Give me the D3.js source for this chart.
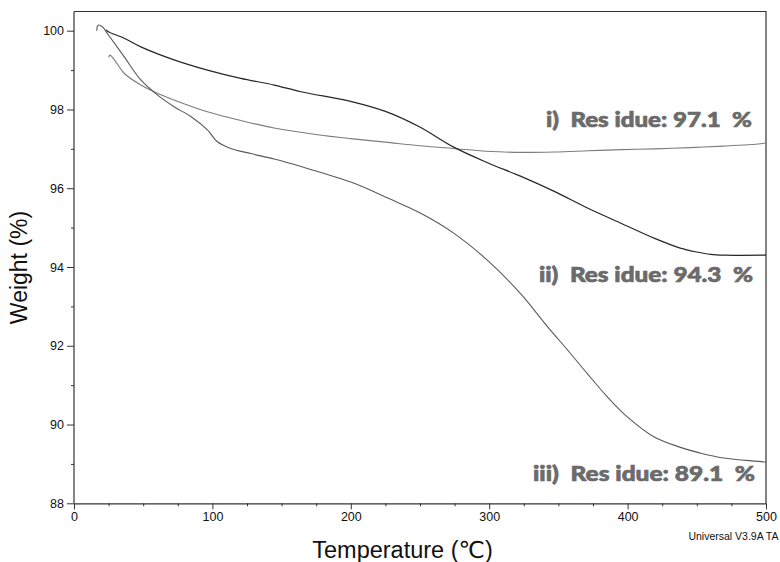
<!DOCTYPE html>
<html>
<head>
<meta charset="utf-8">
<script src="https://cdn.jsdelivr.net/npm/d3@7"></script>
<style>
  html, body { margin: 0; padding: 0; background: #fff; }
  svg { display: block; }
</style>
</head>
<body>
<svg id="chart" width="780" height="562"></svg>
<script>
// ---- data ----
const tempI   = [25.0, 26.0, 30.2, 36.2, 48.3, 60.2, 72.3, 96.4, 120.5, 144.6, 176, 200, 225, 249.5, 274, 298, 323, 347, 371.5, 396, 420, 445, 469, 496, 500];
const weightI = [99.32, 99.38, 99.21, 98.92, 98.62, 98.41, 98.24, 97.94, 97.72, 97.53, 97.36, 97.26, 97.17, 97.08, 97.01, 96.94, 96.91, 96.92, 96.95, 96.98, 97.0, 97.03, 97.07, 97.13, 97.15];

const tempII   = [23.5, 24.1, 36.2, 48.3, 72.3, 96.4, 120.5, 144.6, 164, 200.5, 225, 249.5, 274, 298, 323, 347, 371, 396, 420, 438, 450, 460, 470, 500];
const weightII = [100.03, 99.99, 99.81, 99.59, 99.26, 99.0, 98.79, 98.62, 98.45, 98.20, 97.95, 97.56, 97.05, 96.66, 96.30, 95.92, 95.50, 95.10, 94.72, 94.48, 94.38, 94.32, 94.30, 94.30];

const tempIII   = [16.4, 17.4, 20.5, 24.1, 36.2, 48.3, 60.2, 72.3, 84.4, 96.4, 103.6, 113.3, 127.8, 144.6, 164, 200.5, 228, 250.2, 274.3, 298.4, 322.5, 341.8, 358.6, 370.7, 385.2, 399.6, 418.9, 438.2, 452, 469.3, 500];
const weightIII = [100.0, 100.14, 100.10, 99.93, 99.34, 98.75, 98.37, 98.07, 97.82, 97.48, 97.18, 97.01, 96.88, 96.74, 96.55, 96.15, 95.73, 95.37, 94.86, 94.18, 93.33, 92.50, 91.81, 91.30, 90.71, 90.20, 89.69, 89.42, 89.28, 89.15, 89.05];

const xTicks = [0, 100, 200, 300, 400, 500];
const yTicks = [88, 90, 92, 94, 96, 98, 100];
const xMinorTicks = d3.range(0, 501, 25).filter(v => v % 100 !== 0);
const yMinorTicks = [89, 91, 93, 95, 97, 99];

const labelTexts = ["i)  Res idue: 97.1  %", "ii)  Res idue: 94.3  %", "iii)  Res idue: 89.1  %"];

// ---- layout ----
const plotL = 74, plotR = 766, plotT = 11.5, plotB = 503.3;
const svg = d3.select("#chart");

const x = d3.scaleLinear().domain([0, 500]).range([plotL, plotR]);
const y = d3.scaleLinear().domain([88, 100]).range([plotB, 30.7]);

// frame (top and right)
svg.append("path")
  .attr("d", `M${plotL},${plotT}H${plotR}V${plotB}`)
  .attr("fill", "none").attr("stroke", "#333").attr("stroke-width", 1.2);

// axes
const xAxis = svg.append("g").attr("transform", `translate(0,${plotB})`)
  .call(d3.axisBottom(x).tickValues(xTicks).tickFormat(d3.format("d")).tickSize(6).tickPadding(3).tickSizeOuter(0));
const xMinor = svg.append("g").attr("transform", `translate(0,${plotB})`)
  .call(d3.axisBottom(x).tickValues(xMinorTicks).tickFormat("").tickSize(3).tickSizeOuter(0));
const yAxis = svg.append("g").attr("transform", `translate(${plotL},0)`)
  .call(d3.axisLeft(y).tickValues(yTicks).tickFormat(d3.format("d")).tickSize(7).tickPadding(3).tickSizeOuter(0));
const yMinor = svg.append("g").attr("transform", `translate(${plotL},0)`)
  .call(d3.axisLeft(y).tickValues(yMinorTicks).tickFormat("").tickSize(3).tickSizeOuter(0));

yAxis.select(".domain").attr("d", `M0,${plotT}V${plotB}`);
xMinor.select(".domain").remove();
yMinor.select(".domain").remove();

[xAxis, xMinor, yAxis, yMinor].forEach(g => {
  g.selectAll(".domain").attr("stroke", "#333").attr("stroke-width", 1.2);
  g.selectAll(".tick line").attr("stroke", "#333").attr("stroke-width", 1);
  g.selectAll("text").attr("font-family", "Arial, 'Liberation Sans', sans-serif")
    .attr("font-size", 12.5).attr("fill", "#111");
});

// curves
const line = d3.line().x(d => x(d[0])).y(d => y(d[1])).curve(d3.curveCatmullRom.alpha(0.5));
const series = [
  { t: tempI, w: weightI, color: "#7c7c7c", width: 1.1 },
  { t: tempII, w: weightII, color: "#262626", width: 1.2 },
  { t: tempIII, w: weightIII, color: "#5a5a5a", width: 1.1 }
];
series.forEach(s => {
  svg.append("path")
    .datum(s.t.map((t, i) => [t, s.w[i]]))
    .attr("d", line)
    .attr("fill", "none")
    .attr("stroke", s.color)
    .attr("stroke-width", s.width)
    .attr("stroke-linejoin", "round");
});

// residue labels
const labelPos = [
  { x: 546, y: 127, len: 206 },
  { x: 539, y: 282, len: 214 },
  { x: 533, y: 481, len: 222 }
];
labelTexts.forEach((txt, i) => {
  svg.append("text")
    .attr("x", labelPos[i].x).attr("y", labelPos[i].y)
    .attr("xml:space", "preserve")
    .style("white-space", "pre")
    .attr("textLength", labelPos[i].len)
    .attr("lengthAdjust", "spacingAndGlyphs")
    .attr("font-family", "Lato, 'Open Sans', sans-serif")
    .attr("font-weight", 900)
    .attr("font-size", 21.5)
    .attr("fill", "#6b6b6b")
    .attr("stroke", "#6b6b6b")
    .attr("stroke-width", 0.7)
    .text(txt);
});

// axis titles
svg.append("text")
  .attr("x", 402.5).attr("y", 557.5)
  .attr("text-anchor", "middle")
  .attr("font-family", "Arial, 'Liberation Sans', 'DejaVu Sans', sans-serif")
  .attr("font-size", 23.5).attr("fill", "#111")
  .text("Temperature (℃)");

svg.append("text")
  .attr("transform", "translate(27,267.5) rotate(-90)")
  .attr("text-anchor", "middle")
  .attr("font-family", "Arial, 'Liberation Sans', sans-serif")
  .attr("font-size", 23).attr("fill", "#111")
  .text("Weight (%)");

svg.append("text")
  .attr("x", 778.5).attr("y", 540)
  .attr("text-anchor", "end")
  .attr("font-family", "Arial, 'Liberation Sans', sans-serif")
  .attr("font-size", 10.5).attr("fill", "#111")
  .text("Universal V3.9A TA");
</script>
</body>
</html>
